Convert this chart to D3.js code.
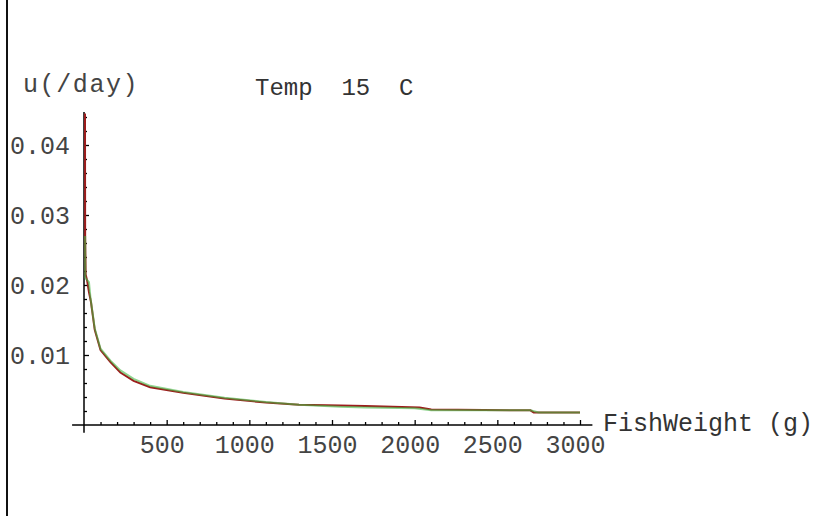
<!DOCTYPE html>
<html>
<head>
<meta charset="utf-8">
<script src="https://cdn.jsdelivr.net/npm/d3@7"></script>
<style>
  body { margin: 0; background: #fff; }
  svg text { font-family: "Liberation Mono", "Courier New", monospace; white-space: pre; }
</style>
</head>
<body>
<svg id="canvas" width="836" height="516"></svg>
<script>
// fish weight (g) and growth rate u (/day)
let redWeight = [6, 7, 10, 20, 30, 42, 65, 100, 160, 220, 300, 400, 600, 850, 1100, 1300, 1550, 1700, 2030, 2100, 2700, 2720, 3000]
let redRate = [0.0445, 0.027, 0.0215, 0.0205, 0.019, 0.0176, 0.0136, 0.0107, 0.009, 0.0075, 0.0063, 0.0054, 0.0046, 0.0038, 0.0032, 0.0029, 0.0028, 0.0027, 0.0025, 0.0022, 0.0021, 0.0018, 0.0018]

let greenWeight = [7, 8, 30, 40, 65, 100, 160, 220, 300, 400, 600, 850, 1100, 1300, 1550, 1700, 2000, 2100, 2700, 2750, 3000]
let greenRate = [0.027, 0.021, 0.0204, 0.018, 0.0138, 0.0109, 0.0092, 0.0078, 0.0066, 0.0056, 0.0047, 0.0039, 0.0033, 0.0029, 0.0026, 0.0025, 0.0024, 0.0021, 0.0021, 0.0018, 0.0018]

let xTicks = [500, 1000, 1500, 2000, 2500, 3000]
let yTicks = [0.01, 0.02, 0.03, 0.04]

let canvas = d3.select("#canvas")

let x = d3.scaleLinear().domain([0, 3000]).range([84, 580])
let y = d3.scaleLinear().domain([0, 0.04]).range([425, 145])

//Left border line
canvas.append("line")
    .attr("x1", 7).attr("x2", 7).attr("y1", 0).attr("y2", 516)
    .attr("stroke", "#111").attr("stroke-width", 2)

//X axis, ticks point up
let xAxis = d3.axisTop(x)
    .tickValues(d3.range(100, 3001, 100))
    .tickSize(0)
    .tickFormat("")
let gx = canvas.append("g").attr("transform", "translate(0,425)").call(xAxis)
gx.select(".domain").remove()
gx.append("line")
    .attr("x1", x(-72)).attr("x2", x(3075))
    .attr("stroke", "#000").attr("stroke-width", 1.5)
gx.selectAll(".tick line")
    .attr("y2", d => xTicks.includes(d) ? -5 : -3)
    .attr("stroke", "#000").attr("stroke-width", 1.3)
gx.selectAll(".tick").filter(d => xTicks.includes(d))
    .append("text")
    .attr("x", -5).attr("y", 28)
    .attr("text-anchor", "middle")
    .attr("fill", "#444")
    .style("font-size", "25px")
    .text(d => d)

//Y axis, ticks point right
let yAxis = d3.axisRight(y)
    .tickValues(d3.range(1, 23).map(i => i * 0.002))
    .tickSize(0)
    .tickFormat("")
let gy = canvas.append("g").attr("transform", "translate(84,0)").call(yAxis)
gy.select(".domain").remove()
gy.append("line")
    .attr("y1", y(-0.0011)).attr("y2", y(0.0447))
    .attr("stroke", "#000").attr("stroke-width", 1.5)
gy.selectAll(".tick line")
    .attr("x2", (d, i) => (i + 1) % 5 === 0 ? 5 : 3)
    .attr("stroke", "#000").attr("stroke-width", 1.3)
gy.selectAll(".tick").filter((d, i) => (i + 1) % 5 === 0)
    .append("text")
    .attr("x", -14).attr("dy", "0.32em")
    .attr("text-anchor", "end")
    .attr("fill", "#444")
    .style("font-size", "25px")
    .text(d => d3.format(".2f")(d))

//Curves, drawn over the axes
let line = d3.line().x(d => x(d[0])).y(d => y(d[1]))
canvas.append("path")
    .datum(d3.zip(redWeight, redRate))
    .attr("d", line)
    .attr("fill", "none").attr("stroke", "#9c1c1c").attr("stroke-width", 2)
canvas.append("path")
    .datum(d3.zip(greenWeight, greenRate))
    .attr("d", line)
    .attr("fill", "none").attr("stroke", "#45b845").attr("stroke-width", 2)
    .attr("stroke-opacity", 0.6)

//Labels
canvas.append("text")
    .attr("x", 23).attr("y", 92)
    .style("font-size", "25px").style("letter-spacing", "1.6px")
    .attr("fill", "#444")
    .text("u(/day)")
canvas.append("text")
    .attr("x", 255).attr("y", 95)
    .style("font-size", "24px")
    .attr("fill", "#333")
    .text("Temp  15  C")
canvas.append("text")
    .attr("x", 603).attr("y", 431)
    .style("font-size", "25px")
    .attr("fill", "#333")
    .text("FishWeight (g)")
</script>
</body>
</html>
